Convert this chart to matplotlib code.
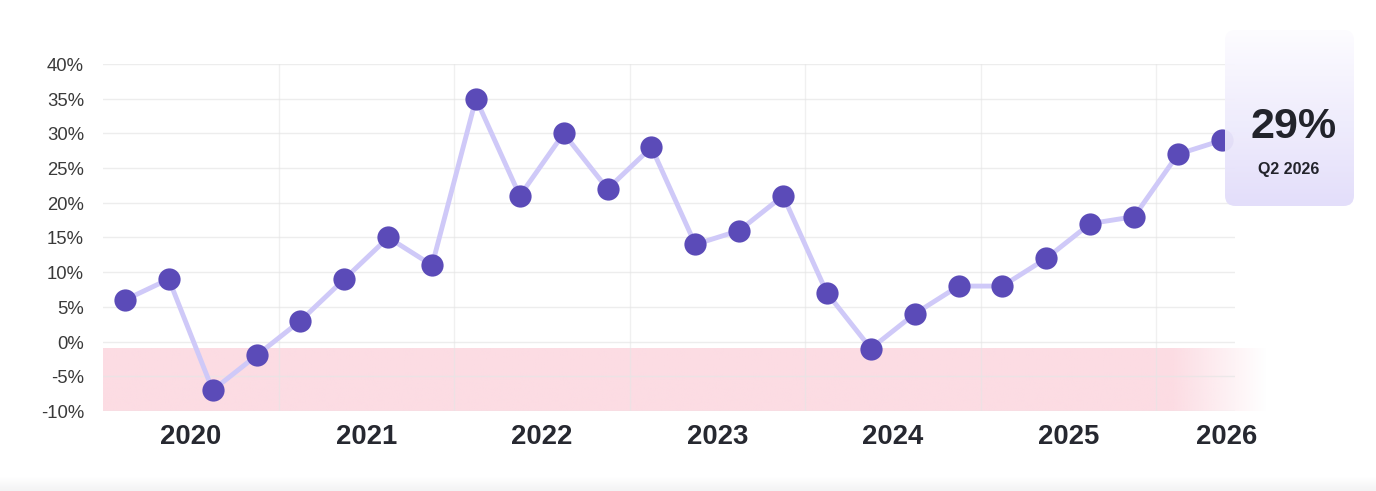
import matplotlib
matplotlib.use("Agg")
import matplotlib.pyplot as plt
import numpy as np
from matplotlib.patches import FancyBboxPatch
from matplotlib.colors import LinearSegmentedColormap, to_rgb
from matplotlib.transforms import offset_copy

plt.rcParams['font.family'] = ['Liberation Sans', 'DejaVu Sans']

# ---- data ----
quarters = ["Q1 2020", "Q2 2020", "Q3 2020", "Q4 2020",
            "Q1 2021", "Q2 2021", "Q3 2021", "Q4 2021",
            "Q1 2022", "Q2 2022", "Q3 2022", "Q4 2022",
            "Q1 2023", "Q2 2023", "Q3 2023", "Q4 2023",
            "Q1 2024", "Q2 2024", "Q3 2024", "Q4 2024",
            "Q1 2025", "Q2 2025", "Q3 2025", "Q4 2025",
            "Q1 2026", "Q2 2026"]
values = [6, 9, -7, -2, 3, 9, 15, 11, 35, 21, 30, 22, 28, 14, 16, 21,
          7, -1, 4, 8, 8, 12, 17, 18, 27, 29]
years = ["2020", "2021", "2022", "2023", "2024", "2025", "2026"]
year_label_pos = [1.5, 5.5, 9.5, 13.5, 17.5, 21.5, 25.1]
year_bounds = [3.5, 7.5, 11.5, 15.5, 19.5, 23.5]
yticks = [-10, -5, 0, 5, 10, 15, 20, 25, 30, 35, 40]
band_low, band_high = -10, -1
callout_value = "29%"
callout_label = "Q2 2026"

W, H = 1376, 491
fig = plt.figure(figsize=(W / 100, H / 100), dpi=100)
fig.patch.set_facecolor("white")

# axes geometry in pixels
L, R, T, B = 103, 1235, 64, 411
XMAX = 25.3
ax = fig.add_axes([L / W, 1 - B / H, (R - L) / W, (B - T) / H])
for s in ax.spines.values():
    s.set_visible(False)
ax.set_xticks([])
ax.set_yticks([])
pxu = (R - L) / (XMAX + 0.5)  # pixels per quarter

# grid (drawn over the band)
for yv in yticks:
    ax.axhline(yv, color="#e6e6e6", lw=1, zorder=2, alpha=0.7)
for xv in year_bounds:
    ax.axvline(xv, color="#e6e6e6", lw=1, zorder=2, alpha=0.6)

# red band with fade on the right
x0 = -0.5
x_fade = x0 + (1173 - L) / pxu
x1 = x0 + (1268 - L) / pxu
n = 400
xs = np.linspace(x0, x1, n)
alpha = np.clip((x1 - xs) / (x1 - x_fade), 0, 1)
rgba = np.zeros((1, n, 4))
rgba[..., :3] = to_rgb("#fcdce3")
rgba[0, :, 3] = alpha
ax.imshow(rgba, extent=[x0, x1, band_low, band_high], aspect="auto",
          zorder=1, clip_on=False, interpolation="bilinear")
ax.set_xlim(-0.5, XMAX)
ax.set_ylim(-10, 40)

# line + markers
xi = np.arange(len(values))
ax.plot(xi, values, color="#cfc9f8", lw=3.5, zorder=3, clip_on=False,
        solid_capstyle="round", solid_joinstyle="round")
ax.scatter(xi, values, s=16 ** 2, color="#5b4bb8", zorder=4,
           clip_on=False, linewidths=0)

# y tick labels
ytr = offset_copy(ax.transData, fig=fig, x=-19, y=-2.5, units="dots")
for yv in yticks:
    ax.text(-0.5, yv, f"{yv}%", ha="right", va="center",
            fontsize=13.3, color="#3a3a3a", transform=ytr)

# year labels
ylab_y = -(435 - B) / (B - T)
ytr2 = offset_copy(ax.get_xaxis_transform(), fig=fig, x=0, y=-2.5, units="dots")
for lab, pos in zip(years, year_label_pos):
    ax.text(pos, ylab_y, lab, transform=ytr2,
            ha="center", va="center", fontsize=19.8, fontweight="bold",
            color="#262830")

# callout box with vertical gradient
bx0, bx1, by0, by1 = 1225, 1354, 30, 206
cax = fig.add_axes([bx0 / W, 1 - by1 / H, (bx1 - bx0) / W, (by1 - by0) / H])
cax.set_xlim(0, 1)
cax.set_ylim(0, 1)
cax.axis("off")
cmap = LinearSegmentedColormap.from_list("g", ["#e2ddfa", "#fdfcff"])
grad = np.linspace(0, 1, 256).reshape(-1, 1)
im = cax.imshow(grad, extent=[0, 1, 0, 1], origin="lower", aspect="auto",
                cmap=cmap, zorder=1, alpha=0.95)
box = FancyBboxPatch((0, 0), 1, 1, boxstyle="round,pad=0,rounding_size=0.08",
                     mutation_aspect=(bx1 - bx0) / (by1 - by0),
                     transform=cax.transAxes, facecolor="none", edgecolor="none")
cax.add_patch(box)
im.set_clip_path(box)

fig.text(1294 / W, 1 - 126.5 / H, callout_value, ha="center", va="center",
         fontsize=31, fontweight="bold", color="#22232b")
fig.text(1289 / W, 1 - 169.5 / H, callout_label, ha="center", va="center",
         fontsize=11.5, fontweight="bold", color="#22232b")

# light gray strip at bottom
sax = fig.add_axes([0, 0, 1, 14 / H])
sax.axis("off")
cmap2 = LinearSegmentedColormap.from_list("s", ["#f3f3f4", "#ffffff"])
sax.imshow(np.linspace(0, 1, 64).reshape(-1, 1), extent=[0, 1, 0, 1],
           origin="lower", aspect="auto", cmap=cmap2)

fig.savefig("out.png", dpi=100)
